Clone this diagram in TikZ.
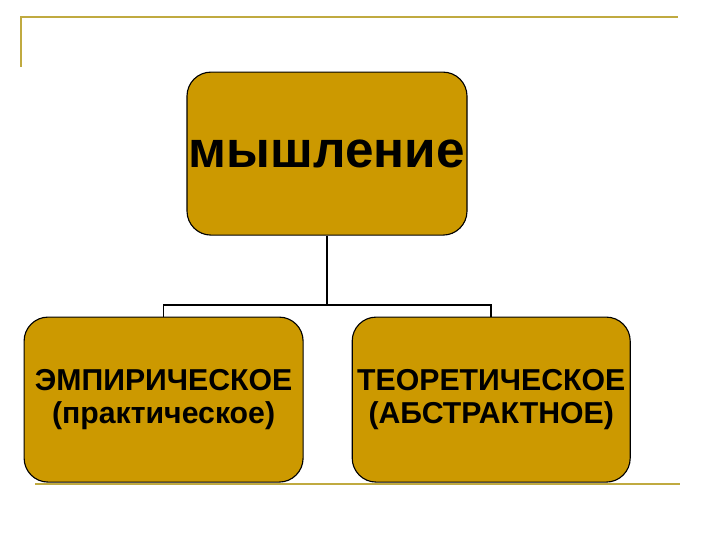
\documentclass[tikz,border=0pt]{standalone}
\usepackage{fontspec}
\setmainfont{Liberation Sans}
\definecolor{boxfill}{RGB}{204,153,0}
\definecolor{rulegold}{RGB}{192,170,64}

\begin{document}
\begin{tikzpicture}[
    box/.style={draw=black,line width=0.8pt,fill=boxfill,rounded corners=0.6cm,
      align=center,font=\bfseries,inner sep=0pt},
    link/.style={black,line width=1pt},
    frame/.style={rulegold,line width=1.5pt}]
  \useasboundingbox (0,0) rectangle (18,13.5);
  % slide frame lines
  \draw[frame] (0.525,11.825) -- (0.525,13.075) -- (16.95,13.075);
  \draw[frame] (0.875,1.4) -- (17.0,1.4);
  % boxes
  \node[box,minimum width=7cm,minimum height=4.075cm,font=\bfseries\fontsize{36.5}{40}\selectfont]
    (M) at (8.175,9.66) {мышление};
  \node[box,minimum width=6.975cm,minimum height=4.125cm,font=\bfseries\fontsize{21.5}{24}\selectfont]
    (E) at (4.09,3.51) {ЭМПИРИЧЕСКОЕ\\(практическое)};
  \node[box,minimum width=6.95cm,minimum height=4.125cm,font=\bfseries\fontsize{21.5}{24}\selectfont]
    (T) at (12.28,3.51) {ТЕОРЕТИЧЕСКОЕ\\(АБСТРАКТНОЕ)};
  % tree lines
  \coordinate (J) at (8.175,5.875);
  \draw[link] (M.south) -- (J);
  \draw[link] (E.north) |- (J);
  \draw[link] (T.north) |- (J);
\end{tikzpicture}
\end{document}
